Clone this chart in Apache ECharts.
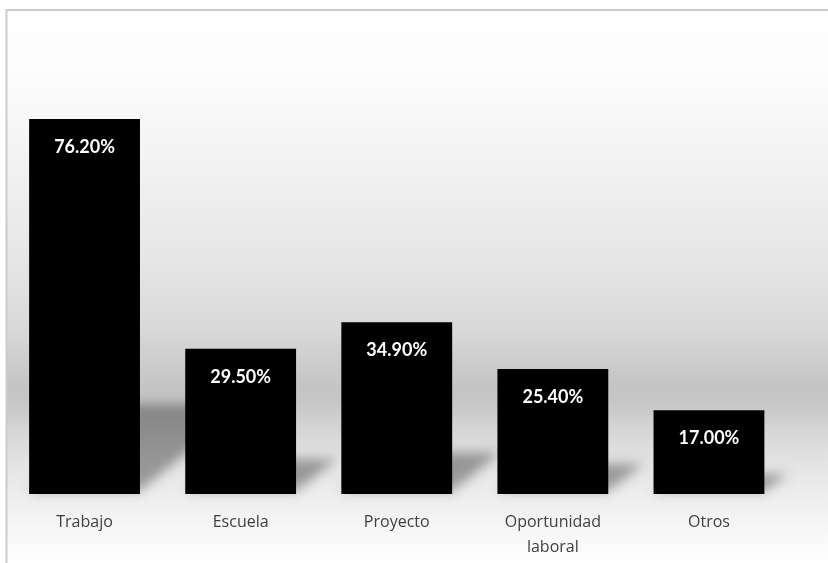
<!DOCTYPE html>
<html>
<head>
<meta charset="utf-8">
<script src="https://cdn.jsdelivr.net/npm/echarts@6/dist/echarts.min.js"></script>
<style>
  html, body { margin: 0; padding: 0; background: #ffffff; }
  #chart { width: 828px; height: 563px; }
</style>
</head>
<body>
<div id="chart"></div>
<script>
// Categories and their percentages
const categories = ['Trabajo', 'Escuela', 'Proyecto', 'Oportunidad\nlaboral', 'Otros'];
const values = [76.2, 29.5, 34.9, 25.4, 17.0];

const chart = echarts.init(document.getElementById('chart'), null, { renderer: 'canvas' });

const BAR_RATIO = 0.71;
// The shape is drawn off to the left and only its blurred shadow lands in place
const OFFSET = 3000;

// Perspective floor shadow behind each bar, sheared to the right and softened
function renderShadow(params, api) {
  const idx = api.value(0);
  const val = api.value(1);
  const top = api.coord([idx, val]);
  const base = api.coord([idx, 0]);
  const band = api.size([1, 0])[0];
  const w = band * BAR_RATIO;
  const h = base[1] - top[1];
  const sh = h * 0.24;
  const shift = h * 0.28;
  const x0 = base[0] - w / 2 - OFFSET;
  const x1 = base[0] + w / 2 - OFFSET;
  const y0 = base[1] - 3;
  return {
    type: 'polygon',
    shape: {
      points: [
        [x0, y0],
        [x1, y0],
        [x1 + shift, y0 - sh + 3],
        [x0 + shift, y0 - sh + 3]
      ]
    },
    style: {
      fill: '#000000',
      shadowBlur: 12,
      shadowColor: 'rgba(0,0,0,0.34)',
      shadowOffsetX: OFFSET,
      shadowOffsetY: 0
    }
  };
}

const option = {
  animation: false,
  backgroundColor: '#ffffff',
  graphic: [
    {
      type: 'rect',
      z: -10,
      silent: true,
      shape: { x: 6.5, y: 10, width: 900, height: 600 },
      style: {
        fill: new echarts.graphic.LinearGradient(0, 0, 0, 553 / 600, [
          { offset: 0.00, color: '#ffffff' },
          { offset: 0.12, color: '#fcfcfc' },
          { offset: 0.28, color: '#f2f2f2' },
          { offset: 0.45, color: '#e6e6e6' },
          { offset: 0.58, color: '#d8d8d8' },
          { offset: 0.68, color: '#c4c4c4' },
          { offset: 0.71, color: '#c6c6c6' },
          { offset: 0.76, color: '#d6d6d6' },
          { offset: 0.82, color: '#e4e4e4' },
          { offset: 0.88, color: '#eeeeee' },
          { offset: 0.95, color: '#f8f8f8' },
          { offset: 1.00, color: '#ffffff' }
        ]),
        stroke: '#cccccc',
        lineWidth: 2
      }
    }
  ],
  grid: {
    left: 6.5,
    right: 41,
    top: 100.4,
    bottom: 69
  },
  xAxis: {
    type: 'category',
    data: categories,
    axisLine: { show: false },
    axisTick: { show: false },
    axisLabel: {
      color: '#404040',
      fontFamily: '"Open Sans", sans-serif',
      fontSize: 16,
      lineHeight: 25,
      margin: 16,
      interval: 0
    }
  },
  yAxis: {
    type: 'value',
    min: 0,
    max: 80,
    show: false,
    splitLine: { show: false }
  },
  series: [
    {
      type: 'custom',
      renderItem: renderShadow,
      data: values.map((v, i) => [i, v]),
      encode: { x: 0, y: 1 },
      z: 1,
      silent: true,
      clip: false
    },
    {
      type: 'bar',
      data: values,
      barWidth: (BAR_RATIO * 100) + '%',
      z: 2,
      itemStyle: { color: '#000000' },
      label: {
        show: true,
        position: 'insideTop',
        distance: 19,
        color: '#ffffff',
        fontFamily: 'Lato, "Open Sans", sans-serif',
        fontWeight: 'bold',
        fontSize: 18,
        formatter: (p) => p.value.toFixed(2) + '%'
      }
    }
  ]
};

chart.setOption(option);
</script>
</body>
</html>
